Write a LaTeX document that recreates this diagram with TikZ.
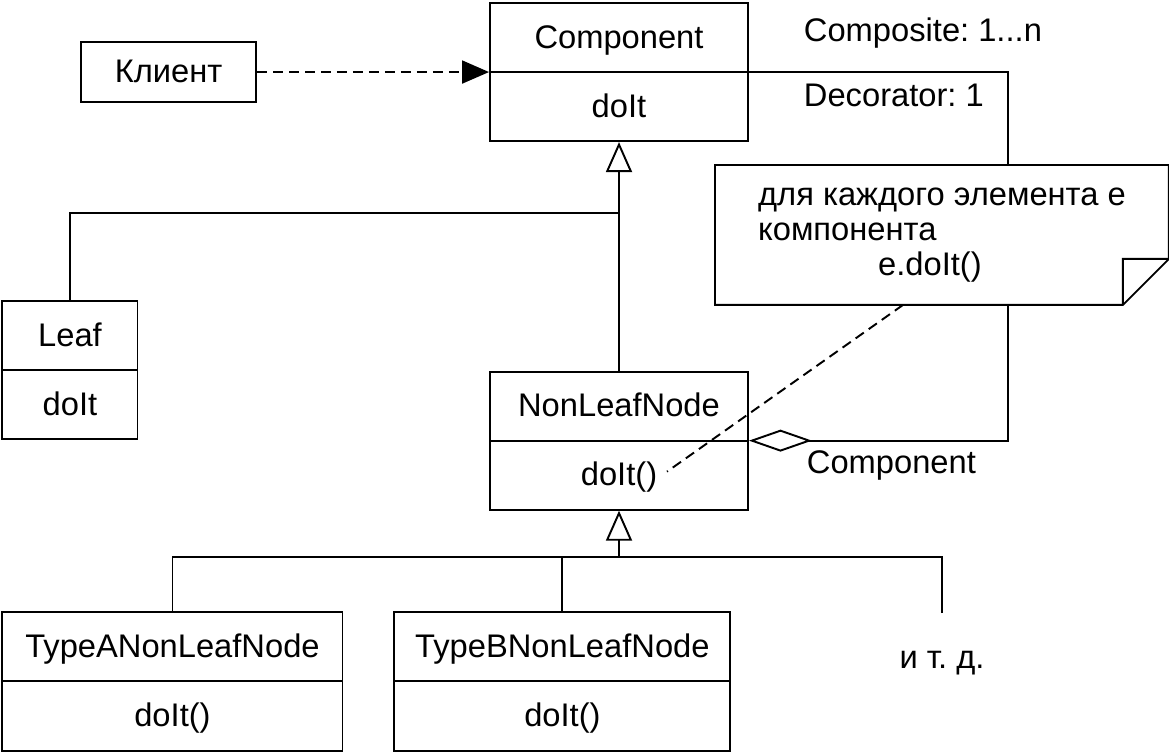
\documentclass[tikz,border=0pt]{standalone}
\usepackage{fontspec}
\setmainfont{Liberation Sans}
\usepackage{tikz}
\usetikzlibrary{shapes,positioning,arrows.meta}
\newcommand{\partstrut}{\rule[-4pt]{0pt}{20pt}}
\frenchspacing
\tikzset{
	class/.style = {
		draw, rectangle split, rectangle split parts=2, fill=white,
		inner xsep=0pt, inner ysep=0.32cm, align=center,
		font=\fontsize{18.6}{20}\selectfont
	}
}
\tikzset{
	client/.style = {
		draw, fill=white, inner xsep=0pt, inner ysep=0.25cm, align=center,
		font=\fontsize{18.6}{20}\selectfont
	}
}
\tikzset{
	note/.style = {
		fill=white, align=left, inner sep=0pt,
		minimum width=9.04cm, minimum height=2.76cm,
		font=\fontsize{18.6}{20}\selectfont
	}
}
\tikzset{
	association/.style = {
		-{Triangle[length=0.54cm, width=0.46cm]}
	}
}
\tikzset{
	dependency/.style = {
		dash pattern=on 5.7pt off 3.4pt
	}
}
\tikzset{
	generalization/.style = {
		-{Triangle[open, length=0.6cm, width=0.52cm]}
	}
}
\tikzset{
	aggregation/.style = {
		{Diamond[open, length=1.26cm, width=0.44cm]}-
	}
}
\tikzset{
	role/.style = {
		inner sep=0pt, font=\fontsize{18.6}{20}\selectfont
	}
}

\begin{document}
\begin{tikzpicture}[line width=1.1pt]
	\path[use as bounding box] (0,0) rectangle (23.38,15.06);

	\node[class, text width=5.16cm, anchor=north](Component) at (12.38,15.02){\partstrut Component
		\nodepart[align=center, text width=5.16cm]{two}
			\partstrut doIt};
	\node[client, text width=3.5cm, left=4.64cm of Component.text split west](Client){\partstrut Клиент};
	\node[class, text width=5.16cm, below=4.57cm of Component](NonLeafNode){\partstrut NonLeafNode
		\nodepart[align=center, text width=5.16cm]{two}
			\partstrut doIt()};
	\node[class, text width=2.7cm, anchor=north west](Leaf) at (0.03,9.06){\partstrut Leaf
		\nodepart[align=center, text width=2.7cm]{two}
			\partstrut doIt};
	\node[class, text width=6.8cm, anchor=south west](TypeANonLeafNode) at (0.03,0.03){\partstrut TypeANonLeafNode
		\nodepart[align=center, text width=6.8cm]{two}
			\partstrut doIt()};
	\node[class, text width=6.72cm, right=1cm of TypeANonLeafNode](TypeBNonLeafNode){\partstrut TypeBNonLeafNode
		\nodepart[align=center, text width=6.72cm]{two}
			\partstrut doIt()};
	\node[role, anchor=base](Etc) at (18.84,1.7){и т. д.};

	% composite / decorator link runs behind the note
	\coordinate (AggCorner) at (20.16,0 |- Component.text split east);
	\draw[aggregation] (NonLeafNode.text split east) -| (AggCorner) -- (Component.text split east);
	\node[role, anchor=base west](CompositeRole) at (16.06,14.22){Composite: 1...n};
	\node[role, anchor=base west](DecoratorRole) at (16.06,12.92){Decorator: 1};
	\node[role, anchor=base west](ComponentRole) at (16.12,5.6){Component};

	\node[note, anchor=north west](Note) at (14.3,11.76){для каждого элемента е\\
		компонента\\
		\hspace*{2.4cm}e.doIt()};
	\draw (Note.north west) -- (Note.north east) -- ([yshift=0.92cm]Note.south east)
		-- ([xshift=-0.92cm]Note.south east) -- (Note.south west) -- cycle;
	\draw ([xshift=-0.92cm]Note.south east) -- ++(0,0.92) -- ([yshift=0.92cm]Note.south east);

	\draw[association, dependency] (Client) -- (Component.text split west);

	\coordinate (LeafBend) at (Component.south |- 0,10.8);
	\draw[generalization] (NonLeafNode) -- (Component);
	\draw (Leaf) |- (LeafBend);

	\coordinate (SubBus) at (NonLeafNode.south |- 0,3.92);
	\coordinate (EtcEnd) at (18.84,2.8);
	\draw[generalization] (SubBus) -- (NonLeafNode);
	\draw (TypeANonLeafNode) |- (SubBus);
	\draw (TypeBNonLeafNode) -- (TypeBNonLeafNode |- SubBus);
	\draw (EtcEnd) |- (SubBus);

	\coordinate (NoteFoot) at ([xshift=3.76cm]Note.south west);
	\coordinate (DoItEnd) at ([xshift=0.96cm, yshift=-0.62cm]NonLeafNode.text split);
	\draw[dependency] (NoteFoot) -- (DoItEnd);
\end{tikzpicture}
\end{document}
